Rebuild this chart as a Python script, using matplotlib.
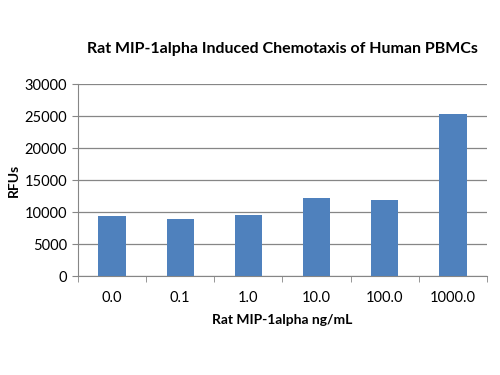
import matplotlib
matplotlib.use("Agg")
import matplotlib.pyplot as plt
import numpy as np

# Data
concentrations = ["0.0", "0.1", "1.0", "10.0", "100.0", "1000.0"]
rfus = [9420, 8950, 9530, 12130, 11930, 25360]
y_ticks = [0, 5000, 10000, 15000, 20000, 25000, 30000]

BAR_COLOR = "#4F81BD"
GRID_COLOR = "#868686"

plt.rcParams["font.family"] = ["Lato", "DejaVu Sans"]

fig = plt.figure(figsize=(5, 3.75), dpi=100)
ax = fig.add_axes([0.156, 0.264, 0.818, 0.512])

x = np.arange(len(concentrations))
ax.bar(x, rfus, width=0.4, color=BAR_COLOR, zorder=3)

ax.set_xlim(-0.5, len(concentrations) - 0.5)
ax.set_ylim(0, 30000)
ax.set_yticks(y_ticks)
ax.set_yticklabels([str(t) for t in y_ticks], fontsize=10.5)

# category labels centred, tick marks at boundaries
ax.set_xticks(x)
ax.set_xticklabels(concentrations, fontsize=10.5)
ax.tick_params(axis="x", length=0, pad=11)
ax.set_xticks(np.arange(-0.5, len(concentrations)), minor=True)
ax.tick_params(axis="x", which="minor", length=4, color=GRID_COLOR, direction="out")
ax.tick_params(axis="y", length=4, color=GRID_COLOR, direction="out", pad=4)

ax.grid(axis="y", color=GRID_COLOR, linewidth=0.9, zorder=0)
for side in ("top", "right"):
    ax.spines[side].set_visible(False)
for side in ("left", "bottom"):
    ax.spines[side].set_color(GRID_COLOR)

ax.set_title("Rat MIP-1alpha Induced Chemotaxis of Human PBMCs",
             fontsize=11.5, fontweight="bold", pad=22)
ax.set_xlabel("Rat MIP-1alpha ng/mL", fontsize=10, fontweight="bold", labelpad=6)
ax.set_ylabel("RFUs", fontsize=10, fontweight="bold", labelpad=3)

fig.savefig("out.png", dpi=100)
